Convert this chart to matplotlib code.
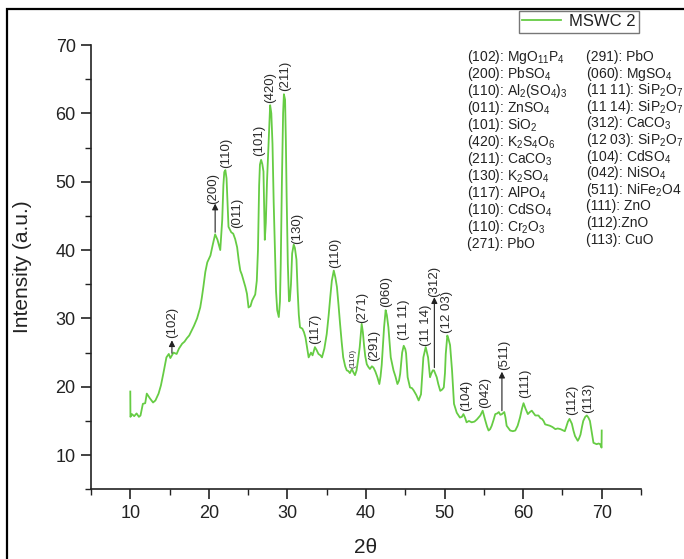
import matplotlib
matplotlib.use("Agg")
import matplotlib.pyplot as plt
from matplotlib.patches import Rectangle
from matplotlib.ticker import MultipleLocator

plt.rcParams["font.family"] = ["Liberation Sans", "DejaVu Sans"]
plt.rcParams["mathtext.fontset"] = "custom"
plt.rcParams["mathtext.rm"] = "Liberation Sans"
plt.rcParams["mathtext.it"] = "Liberation Sans:italic"
plt.rcParams["mathtext.default"] = "regular"

# XRD pattern of sample MSWC 2
two_theta = [
    10.0, 10.02, 10.2, 10.5, 10.8, 11.1, 11.3, 11.6, 11.9, 12.1, 12.5, 12.9, 13.2,
    13.6, 13.9, 14.2, 14.6, 14.9, 15.1, 15.3, 15.5, 15.9, 16.2, 16.6, 16.9, 17.2,
    17.5, 17.8, 18.1, 18.5, 18.9, 19.1, 19.3, 19.55, 19.8, 20.2, 20.5, 20.8, 21.1,
    21.45, 21.7, 21.85, 21.96, 22.1, 22.25, 22.4, 22.5, 22.85, 23.1, 23.35, 23.6,
    23.8, 24.0, 24.2, 24.4, 24.65, 24.85, 25.05, 25.3, 25.5, 25.9, 26.1, 26.25,
    26.4, 26.5, 26.65, 26.8, 26.95, 27.05, 27.12, 27.25, 27.4, 27.6, 27.8, 27.95,
    28.1, 28.25, 28.4, 28.55, 28.7, 28.9, 29.05, 29.15, 29.3, 29.45, 29.55, 29.7,
    29.8, 29.9, 30.05, 30.2, 30.3, 30.45, 30.6, 30.8, 30.95, 31.15, 31.3, 31.45,
    31.6, 31.9, 32.1, 32.3, 32.5, 32.7, 33.0, 33.2, 33.5, 33.7, 33.95, 34.2, 34.4,
    34.7, 35.0, 35.25, 35.45, 35.65, 35.9, 36.1, 36.3, 36.5, 36.7, 36.9, 37.1,
    37.35, 37.55, 37.75, 37.95, 38.2, 38.4, 38.6, 38.8, 39.0, 39.2, 39.45, 39.6,
    39.75, 39.9, 40.1, 40.3, 40.5, 40.75, 40.95, 41.2, 41.45, 41.7, 41.85, 42.0,
    42.15, 42.3, 42.5, 42.65, 42.85, 43.0, 43.15, 43.5, 43.75, 44.0, 44.2, 44.35,
    44.6, 44.8, 45.0, 45.1, 45.3, 45.6, 45.85, 46.05, 46.4, 46.7, 47.0, 47.15,
    47.3, 47.6, 47.9, 48.15, 48.3, 48.5, 48.65, 49.0, 49.2, 49.45, 49.7, 49.9,
    50.05, 50.15, 50.35, 50.5, 50.7, 50.95, 51.1, 51.2, 51.55, 51.95, 52.2, 52.4,
    52.6, 52.8, 53.1, 53.45, 53.8, 54.1, 54.55, 54.85, 55.15, 55.4, 55.6, 55.8,
    56.0, 56.25, 56.45, 56.7, 56.9, 57.1, 57.3, 57.6, 57.75, 57.9, 58.1, 58.35,
    58.7, 59.0, 59.3, 59.6, 59.85, 60.05, 60.3, 60.6, 60.85, 61.1, 61.3, 61.55,
    61.95, 62.2, 62.4, 62.6, 62.8, 63.1, 63.4, 63.75, 64.1, 64.4, 64.75, 65.1,
    65.3, 65.45, 65.7, 65.9, 66.2, 66.4, 66.6, 66.95, 67.1, 67.3, 67.5, 67.65,
    67.9, 68.1, 68.3, 68.5, 68.7, 68.95, 69.15, 69.35, 69.6, 69.8, 69.98, 70.0,
]
intensity = [
    19.3, 15.6, 16.0, 15.7, 16.1, 15.6, 15.8, 17.5, 17.6, 19.0, 18.3, 17.7, 18.0,
    19.0, 20.2, 21.9, 24.3, 24.8, 24.2, 24.6, 25.0, 24.8, 25.6, 26.3, 26.6, 27.1,
    27.5, 28.2, 28.9, 30.0, 31.6, 33.0, 34.6, 36.8, 38.2, 39.2, 40.8, 42.3, 41.5,
    40.0, 44.4, 49.5, 51.4, 51.7, 50.5, 46.0, 43.4, 42.6, 42.4, 41.6, 40.4,
    38.5, 37.0, 36.4, 35.6, 34.6, 33.6, 31.6, 31.8, 32.6, 33.5, 35.5, 40.0,
    49.5, 52.5, 53.2, 52.6, 51.5, 46.0, 41.5, 44.0, 50.0, 55.5, 61.2, 60.0,
    55.5, 47.0, 40.4, 34.0, 31.2, 30.2, 32.5, 38.0, 50.2, 60.0, 62.8, 62.0,
    56.0, 47.8, 38.0, 32.5, 32.6, 35.0, 39.5, 40.8, 40.3, 38.6, 34.0, 30.5,
    28.7, 28.5, 28.0, 27.2, 25.8, 24.3, 25.0, 24.6, 25.8, 25.4, 24.8, 24.6, 24.3,
    25.6, 27.7, 30.5, 33.1, 35.5, 37.0, 36.0, 34.6, 32.0, 29.2, 26.6, 24.3,
    23.0, 22.4, 22.3, 22.0, 22.6, 22.1, 21.7, 22.4, 24.0, 25.8, 29.2, 28.0,
    26.1, 24.5, 23.3, 22.9, 22.6, 23.0, 22.8, 22.2, 21.4, 20.4, 21.5, 23.2,
    26.0, 28.7, 31.2, 30.5, 28.7, 26.5, 24.3, 22.4, 21.5, 20.4, 20.9, 21.9,
    25.0, 26.0, 25.5, 24.9, 21.4, 19.9, 19.8, 19.5, 18.8, 18.0, 18.9, 21.5,
    24.3, 25.8, 24.3, 21.4, 21.9, 22.4, 22.4, 21.4, 20.4, 19.4, 19.6, 19.9,
    22.0, 24.8, 27.5, 27.0, 26.1, 22.4, 19.5, 17.5, 16.2, 15.5, 15.6, 16.0,
    15.5, 14.8, 15.0, 14.8, 14.9, 15.2, 15.8, 16.5, 15.2, 14.2, 13.6, 13.8,
    14.3, 15.2, 16.0, 16.1, 16.3, 15.9, 16.0, 16.3, 15.5, 14.3, 14.0, 13.6,
    13.5, 13.6, 14.3, 15.5, 16.8, 17.6, 16.8, 16.0, 16.3, 16.5, 16.2, 15.8,
    15.8, 15.4, 15.3, 15.0, 14.5, 14.4, 14.3, 14.1, 13.8, 13.9, 13.8, 13.6,
    13.5, 14.0, 14.9, 15.3, 14.6, 13.6, 12.8, 12.1, 12.4, 13.0, 14.2, 15.0,
    15.6, 15.8, 15.5, 15.0, 13.6, 11.8, 11.7, 11.6, 11.7, 11.6, 11.1, 13.6,
]

# (hkl) labels placed above the reflections
peak_labels = ["(102)", "(200)", "(110)", "(011)", "(101)", "(420)", "(211)",
               "(130)", "(117)", "(110)", "(271)", "(291)", "(060)", "(11 11)",
               "(11 14)", "(312)", "(12 03)", "(104)", "(042)", "(511)", "(111)",
               "(112)", "(113)"]
peak_label_x = [15.3, 20.6, 22.2, 23.6, 26.45, 27.85, 29.7, 31.2, 33.5, 36.1,
                39.45, 41.0, 42.55, 44.8, 47.7, 48.7, 50.3, 52.7, 55.1, 57.6,
                60.3, 66.2, 68.3]
peak_label_y = [27.2, 46.8, 52.0, 43.3, 53.8, 61.5, 63.2, 40.9, 26.3, 37.4,
                29.4, 23.8, 31.6, 26.8, 26.0, 33.2, 27.9, 16.5, 16.9, 22.4,
                18.3, 15.8, 16.1]

# Small label for the weak (110) reflection near 38°
minor_label = "(110)"
minor_label_x = 38.3
minor_label_y = 22.8

# Arrows pointing to weak reflections: (x, tail, head)
arrow_x = [15.3, 20.8, 48.7, 57.3]
arrow_tail = [24.9, 42.6, 22.8, 16.5]
arrow_head = [26.8, 46.8, 33.1, 22.2]

phases_left = [
    "(102): MgO$_{11}$P$_4$", "(200): PbSO$_4$", "(110): Al$_2$(SO$_4$)$_3$",
    "(011): ZnSO$_4$", "(101): SiO$_2$", "(420): K$_2$S$_4$O$_6$",
    "(211): CaCO$_3$", "(130): K$_2$SO$_4$", "(117): AlPO$_4$",
    "(110): CdSO$_4$", "(110): Cr$_2$O$_3$", "(271): PbO",
]
phases_right = [
    "(291): PbO", "(060): MgSO$_4$", "(11 11): SiP$_2$O$_7$",
    "(11 14): SiP$_2$O$_7$", "(312): CaCO$_3$", "(12 03): SiP$_2$O$_7$",
    "(104): CdSO$_4$", "(042): NiSO$_4$", "(511): NiFe$_2$O4",
    "(111): ZnO", "(112):ZnO", "(113): CuO",
]

W, H = 684, 559
fig = plt.figure(figsize=(W / 100, H / 100), dpi=100)

# outer frame
fig.add_artist(Rectangle((7 / W, -0.2), 1.5, 1 - 9 / H + 0.2, transform=fig.transFigure,
                         fill=False, edgecolor="black", linewidth=1.6))

ax = fig.add_axes([91 / W, 1 - 489.3 / H, 550 / W, 444.3 / H])
line_color = "#66cc44"
ax.plot(two_theta, intensity, color=line_color, lw=1.3, label="MSWC 2")

ax.set_xlim(5, 75)
ax.set_ylim(5, 70)
for side in ("top", "right"):
    ax.spines[side].set_visible(False)
for side in ("left", "bottom"):
    ax.spines[side].set_linewidth(1.2)
    ax.spines[side].set_color("#222222")
ax.xaxis.set_major_locator(MultipleLocator(10))
ax.xaxis.set_minor_locator(MultipleLocator(5))
ax.yaxis.set_major_locator(MultipleLocator(10))
ax.yaxis.set_minor_locator(MultipleLocator(5))
ax.set_xticks(range(10, 71, 10))
ax.set_yticks(range(10, 71, 10))
ax.tick_params(which="major", direction="out", length=7, width=1.2, labelsize=13,
               colors="#222222", pad=4)
ax.tick_params(which="minor", direction="out", length=4, width=1.0, colors="#222222")

ax.set_xlabel("2θ", fontsize=15, color="#222222")
ax.set_ylabel("Intensity (a.u.)", fontsize=15, color="#222222")
ax.xaxis.set_label_coords(0.5, -0.132)
ax.yaxis.set_label_coords(-0.125, 0.5)
ax.xaxis.label.set_va("center")
ax.yaxis.label.set_va("center")

for s, x, y in zip(peak_labels, peak_label_x, peak_label_y):
    ax.text(x, y, s, rotation=90, ha="center", va="bottom", fontsize=9.5, color="#2a2a2a")
ax.text(minor_label_x, minor_label_y, minor_label, rotation=90, ha="center",
        va="bottom", fontsize=6, color="#333333")

for x, t, h in zip(arrow_x, arrow_tail, arrow_head):
    ax.annotate("", xy=(x, h), xytext=(x, t),
                arrowprops=dict(arrowstyle="-|>", color="#222222", lw=0.8,
                                mutation_scale=9, shrinkA=0, shrinkB=0))

leg = fig.legend(loc="upper left", bbox_to_anchor=(519 / W, 1 - 11 / H),
                 bbox_transform=fig.transFigure, frameon=True, fancybox=False,
                 edgecolor="#555555", fontsize=12, handlelength=2.3,
                 borderpad=0.2, borderaxespad=0, handletextpad=0.5)
leg.get_frame().set_linewidth(1.0)
for t in leg.get_texts():
    t.set_color("#222222")

for i, s in enumerate(phases_left):
    fig.text(467 / W, 1 - (57 + 17.0 * i) / H, s, fontsize=10, va="center",
             ha="left", color="#222222")
for i, s in enumerate(phases_right):
    fig.text(586 / W, 1 - (57 + 16.6 * i) / H, s, fontsize=10, va="center",
             ha="left", color="#222222")

fig.savefig("out.png", dpi=100)
